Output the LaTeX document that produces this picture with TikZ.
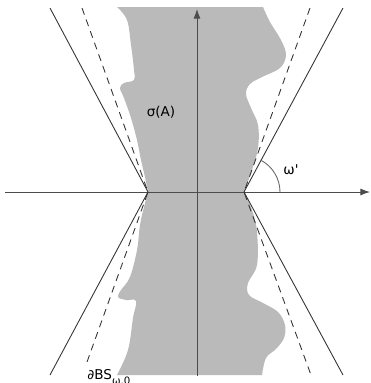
\documentclass[tikz,border=0pt]{standalone}
\usepackage{fontspec}
\setmainfont{DejaVu Sans}
\newfontfamily\plainfont{DejaVu Sans}
\usetikzlibrary{arrows.meta}

\begin{document}
\begin{tikzpicture}[x=0.02cm,y=-0.02cm,>={Latex[length=5.5pt,width=4pt]},line width=0.5pt,
    font=\fontsize{7.7}{9}\selectfont]
  \tikzstyle{axis}=[->,draw=black!70]
  \tikzstyle{bound}=[draw=black!80]
  \tikzstyle{sector}=[draw=black!80,dash pattern=on 4pt off 3pt]
  \tikzstyle{spec}=[fill=black!27]
  \useasboundingbox (0,0) rectangle (371,383);

  \coordinate (O) at (197,192);
  \coordinate (L) at (148,192);
  \coordinate (R) at (244,192);

  % the spectrum
  \path [spec] (117,7) -- (263,7)
    -- plot [smooth,tension=0.6] coordinates {(263,7) (270,22) (281,40) (286,55) (280,68) (262,77)
       (250,84) (246,94) (251,108) (258,125) (258,148) (252,170) (R)}
    -- plot [smooth,tension=0.6] coordinates {(R) (252,210) (257,232) (257,265) (248,283) (249,295)
       (263,303) (278,312) (285,325) (284,338) (276,349) (266,358) (262,375)}
    -- (117,375)
    -- plot [smooth,tension=0.6] coordinates {(117,375) (128,350) (133,318) (136,301) (126,300)
       (118,297) (121,290) (130,277) (137,250) (140,225) (144,207) (L)}
    -- plot [smooth,tension=0.6] coordinates {(L) (145,177) (141,160) (137,140) (131,118) (124,98)
       (120,88) (124,83) (134,80) (134,70) (131,45) (127,20) (117,7)}
    -- cycle;

  % axes
  \coordinate (xa) at (5,192);
  \coordinate (xb) at (370,192);
  \coordinate (ya) at (197,376);
  \coordinate (yb) at (197,9);
  \draw [axis] (xa) -- (xb);
  \draw [axis] (ya) -- (yb);

  % the sector
  \coordinate (lt) at (50,8);
  \coordinate (lb) at (50,375);
  \coordinate (rt) at (343,8);
  \coordinate (rb) at (343,375);
  \draw [bound] (lt) -- (L) -- (lb);
  \draw [bound] (rt) -- (R) -- (rb);

  \coordinate (dlt) at (82,8);
  \coordinate (dlb) at (87,362);
  \coordinate (drt) at (310,8);
  \coordinate (drb) at (311,375);
  \draw [sector] (dlt) -- (L) -- (dlb);
  \draw [sector] (drt) -- (R) -- (drb);

  \draw [draw=black!60] (R) ++(36,0) arc [start angle=0,end angle=-62,radius=36];

  \node (sigma) at (161,112) {σ(A)};
  \node (omega) at (291,170) {\plainfont ω'};
  \node [anchor=base west,inner sep=0pt] (bs) at (87,379)
    {∂BS\raisebox{-3pt}{\fontsize{5.8}{7}\selectfont ω,0}};
\end{tikzpicture}
\end{document}
